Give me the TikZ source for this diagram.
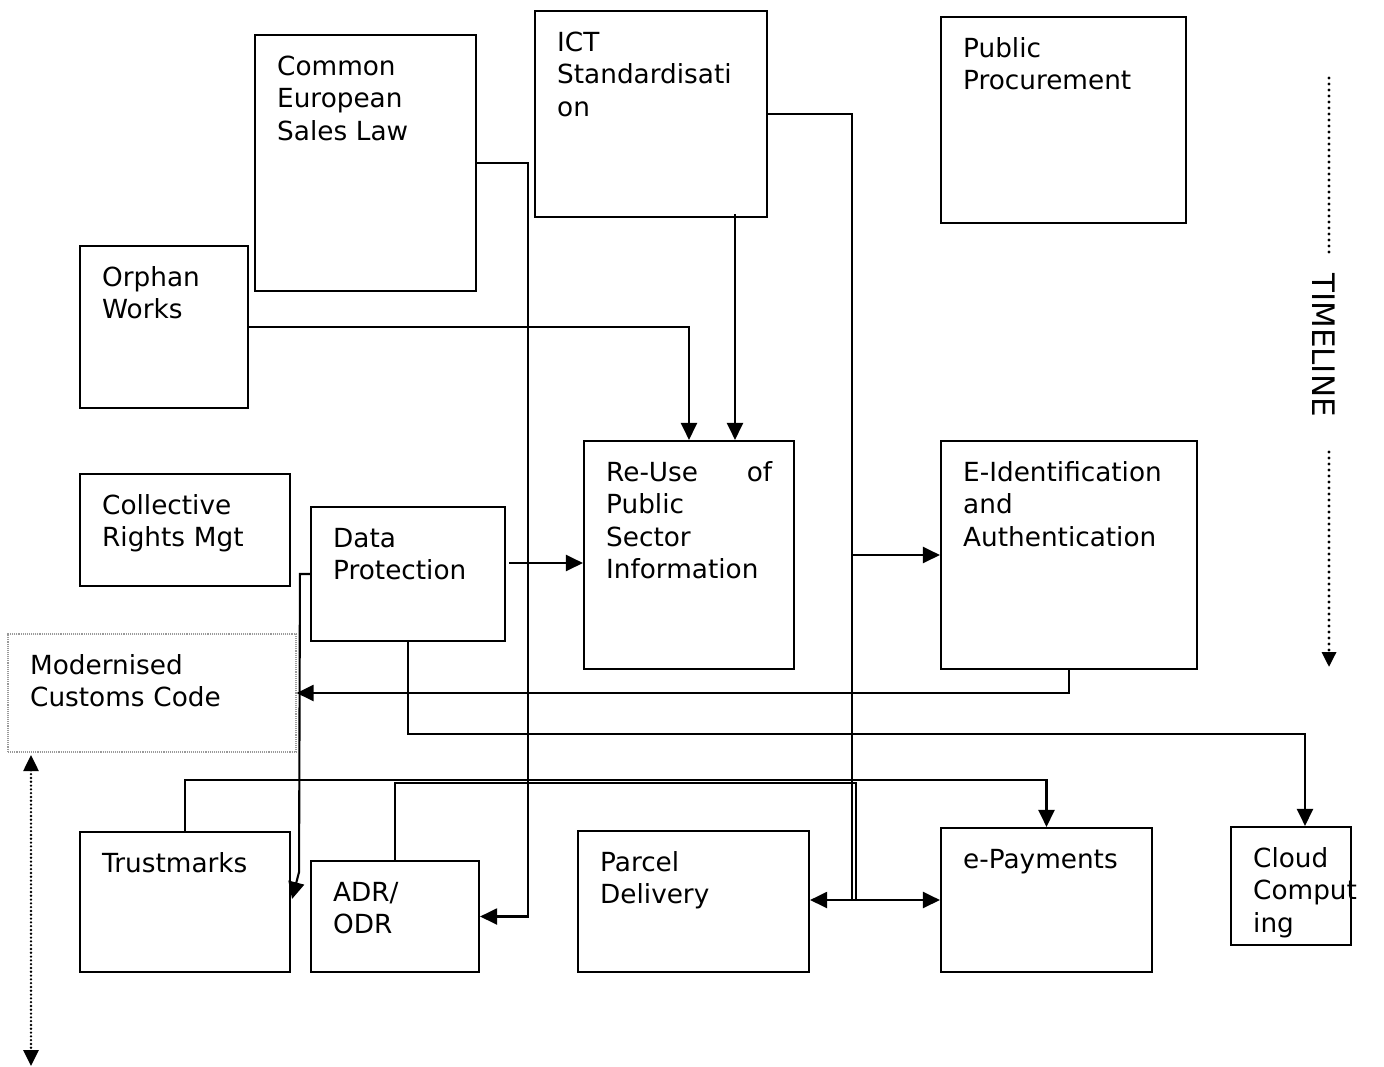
\documentclass[tikz,border=0pt]{standalone}
\usepackage{fontspec}
\setmainfont{DejaVu Sans}
\usetikzlibrary{arrows.meta,calc}
\newcommand\bx[7]{%
  \pgfmathsetmacro\bxw{#5-#3}%
  \pgfmathsetmacro\bxh{#6-#4}%
  \pgfmathsetmacro\bxt{#5-#3-44}%
  \node[#2, minimum width=\bxw pt, minimum height=\bxh pt] (#1) at ({(#3+#5)/2},{(#4+#6)/2}) {};
  \node[txt, text width=\bxt pt] (#1-t) at (#3+22,#4+40) {#7};
}
\begin{document}
\begin{tikzpicture}[x=1pt,y=-1pt,
  boxst/.style={draw, line width=2.1pt, inner sep=0pt},
  dotbox/.style={draw=gray!80, line width=1.1pt, densely dotted, inner sep=0pt},
  txt/.style={anchor=base west, inner sep=0pt, align=left, font=\fontsize{26.3}{32.5}\selectfont},
  conn/.style={line width=2.1pt},
  arr/.style={conn, -{Triangle[length=17pt,width=16pt]}},
  darr/.style={conn, {Triangle[length=17pt,width=16pt]}-{Triangle[length=17pt,width=16pt]}},
  tdot/.style={line width=3.3pt, dash pattern=on 0pt off 6pt, line cap=round},
  ldot/.style={line width=2.6pt, dash pattern=on 0pt off 3.8pt, line cap=round},
]
\useasboundingbox[fill=white] (0,0) rectangle (1384,1066);

\bx{cesl}{boxst}{255}{35}{476}{291}{Common\\European\\Sales Law}
\bx{ict}{boxst}{535}{11}{767}{217}{ICT\\Standardisati\\on}
\bx{pp}{boxst}{941}{17}{1186}{223}{Public\\Procurement}
\bx{orphan}{boxst}{80}{246}{248}{408}{Orphan\\Works}
\bx{crm}{boxst}{80}{474}{290}{586}{Collective\\Rights Mgt}
\bx{dp}{boxst}{311}{507}{505}{641}{Data\\Protection}
\bx{reuse}{boxst}{584}{441}{794}{669}{Re-Use\hfill of\\Public\\Sector\\Information}
\bx{eid}{boxst}{941}{441}{1197}{669}{E-Identification\\and\\Authentication}
\bx{mcc}{dotbox}{8}{634}{296}{752}{Modernised\\Customs Code}
\bx{trust}{boxst}{80}{832}{290}{972}{Trustmarks}
\bx{adr}{boxst}{311}{861}{479}{972}{ADR/\\ODR}
\bx{parcel}{boxst}{578}{831}{809}{972}{Parcel\\Delivery}
\bx{epay}{boxst}{941}{828}{1152}{972}{e-Payments}
\bx{cloud}{boxst}{1231}{827}{1351}{945}{Cloud\\Comput\\ing}

% connectors
\draw[arr] (cesl.east) -| ($(adr.east)+(48,0)$) -- (adr.east);
\coordinate (j1) at ($(eid.west)+(-88,0)$);
\coordinate (j2) at (j1 |- epay.west);
\draw[conn] (ict.east) -| (j1) -- (j2);
\draw[arr] (j1) -- (eid.west);
\draw[darr] (parcel.east |- epay.west) -- (epay.west);
\draw[conn] (adr.north) |- ($(j1 |- trust.north)+(4,-48)$) -- ($(j2)+(4,0)$);
\coordinate (k) at ($(reuse.north)+(46,0)$);
\draw[arr] ($(ict.south -| k)+(0,-4)$) -- (k);
\draw[arr] (orphan.east) -| (reuse.north);
\coordinate (d1) at ($(dp.east)+(3,-11)$);
\draw[arr] (d1) -- (d1 -| reuse.west);
\draw[arr] (eid.south) |- (mcc.east);
\draw[arr] (dp.south) |- ($(cloud.north)+(14,-92)$) -- ($(cloud.north)+(14,0)$);
\draw[arr] (trust.north) |- ($(epay.north)+(0,-47)$) -- (epay.north);
\draw[arr] (dp.west) -- ++(-10,0) -- ($(trust.east)+(8,-30)$) -- ($(trust.east)+(1,-3)$);

% timeline
\node[inner sep=0pt, rotate=-90, font=\fontsize{31}{31}\selectfont] (tl) at (1324,345) {TIMELINE};
\coordinate (ta) at (1329,78);
\coordinate (tb) at (1329,254);
\coordinate (tc) at (1329,452);
\coordinate (td) at (1329,667);
\draw[tdot] (ta) -- (tb);
\draw[tdot, -{Triangle[length=15pt,width=14pt]}] (tc) -- (td);

% left dotted double arrow
\coordinate (la) at (31,755);
\coordinate (lb) at (31,1066);
\draw[ldot, {Triangle[length=16pt,width=15pt]}-{Triangle[length=16pt,width=15pt]}] (la) -- (lb);
\end{tikzpicture}
\end{document}
